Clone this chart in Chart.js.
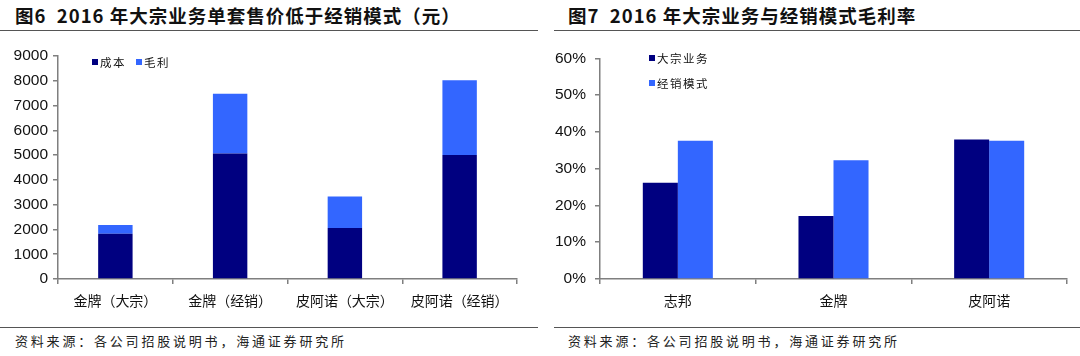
<!DOCTYPE html>
<html>
<head>
<meta charset="utf-8">
<script src="https://cdn.jsdelivr.net/npm/chart.js@4"></script>
<style>
  html, body { margin:0; padding:0; background:#fff; }
  body { width:1080px; height:356px; position:relative; overflow:hidden; font-family:"Noto Sans CJK SC","Noto Sans",sans-serif; }
  .title { position:absolute; top:2px; font-weight:bold; font-size:18.5px; color:#111; white-space:nowrap; letter-spacing:1px; }
  .hline { position:absolute; height:0; border-top:1.5px solid #555; }
  .source { position:absolute; top:331px; font-size:13px; color:#222; white-space:nowrap; letter-spacing:2.8px; }
  canvas { position:absolute; }
  .legend { position:absolute; font-size:11.5px; color:#111; white-space:nowrap; letter-spacing:1.5px; }
  .legend .item { display:inline-flex; align-items:center; }
  .legend .sw { display:inline-block; width:6px; height:6px; margin-right:2px; }
</style>
</head>
<body>
<div class="title" style="left:15px;">图6&nbsp;&nbsp;2016 年大宗业务单套售价低于经销模式（元）</div>
<div class="title" style="left:568px;">图7&nbsp;&nbsp;2016 年大宗业务与经销模式毛利率</div>
<div class="hline" style="left:0; width:538px; top:30px;"></div>
<div class="hline" style="left:554px; width:526px; top:30px;"></div>
<div class="hline" style="left:0; width:538px; top:327px;"></div>
<div class="hline" style="left:554px; width:526px; top:327px;"></div>
<div class="source" style="left:15px;">资料来源：各公司招股说明书，海通证券研究所</div>
<div class="source" style="left:568px;">资料来源：各公司招股说明书，海通证券研究所</div>

<canvas id="c1" width="530" height="300" style="left:0; top:40px;"></canvas>
<canvas id="c2" width="540" height="300" style="left:540px; top:40px;"></canvas>
<div class="legend" id="lg1" style="left:92px; top:52px;"></div>
<div class="legend" id="lg2" style="left:649px; top:50px;"></div>

<script>
// ---- data: figure 6 ----
const priceCategories = ['金牌（大宗）', '金牌（经销）', '皮阿诺（大宗）', '皮阿诺（经销）'];
const costValues = [1830, 5070, 2060, 5000];
const profitValues = [350, 2410, 1270, 3020];
const priceTicks = [0, 1000, 2000, 3000, 4000, 5000, 6000, 7000, 8000, 9000];
const priceSeriesNames = ['成本', '毛利'];

// ---- data: figure 7 ----
const marginCategories = ['志邦', '金牌', '皮阿诺'];
const bulkMargin = [26.2, 17.1, 37.9];
const dealerMargin = [37.6, 32.3, 37.6];
const marginTicks = [0, 10, 20, 30, 40, 50, 60];
const marginSeriesNames = ['大宗业务', '经销模式'];

const DARK = '#000080';
const LIGHT = '#3366FF';
const AXIS = '#7f7f7f';
const tickFont = { family: '"Liberation Sans", Arial, sans-serif', size: 15.5 };
const catFont = { family: '"Noto Sans CJK SC", sans-serif', size: 14 };

function buildLegend(el, names, colors, vertical) {
  names.forEach((n, i) => {
    const it = document.createElement('div');
    it.className = 'item';
    if (vertical) { it.style.display = 'flex'; it.style.marginBottom = '9px'; }
    else { it.style.marginRight = '10px'; }
    const sw = document.createElement('span');
    sw.className = 'sw';
    sw.style.background = colors[i];
    it.appendChild(sw);
    it.appendChild(document.createTextNode(n));
    el.appendChild(it);
  });
}
buildLegend(document.getElementById('lg1'), priceSeriesNames, [DARK, LIGHT], false);
buildLegend(document.getElementById('lg2'), marginSeriesNames, [DARK, LIGHT], true);

function fixedTicks(list) {
  return function(axis) { axis.ticks = list.map(v => ({ value: v })); };
}

new Chart(document.getElementById('c1'), {
  type: 'bar',
  data: {
    labels: priceCategories,
    datasets: [
      { label: priceSeriesNames[0], data: costValues, backgroundColor: DARK },
      { label: priceSeriesNames[1], data: profitValues, backgroundColor: LIGHT }
    ]
  },
  options: {
    responsive: false, animation: false, devicePixelRatio: 1,
    layout: { padding: { left: 0, right: 13, top: 16, bottom: 0 } },
    plugins: { legend: { display: false }, tooltip: { enabled: false } },
    datasets: { bar: { categoryPercentage: 1, barPercentage: 0.3 } },
    scales: {
      x: {
        stacked: true,
        afterFit: s => { s.height = 61; },
        border: { display: true, color: AXIS, width: 1.5 },
        grid: { display: true, drawOnChartArea: false, drawTicks: true, tickLength: 5, color: AXIS, offset: true, lineWidth: 1.5 },
        ticks: { color: '#111', font: catFont, padding: 8 }
      },
      y: {
        stacked: true, min: 0, max: 9000,
        afterFit: s => { s.width = 58; },
        afterBuildTicks: fixedTicks(priceTicks),
        border: { display: true, color: AXIS, width: 1.5 },
        grid: { display: true, drawOnChartArea: false, drawTicks: true, tickLength: 5, color: AXIS, lineWidth: 1.5 },
        ticks: { color: '#111', font: tickFont, padding: 5, callback: v => String(v) }
      }
    }
  }
});

new Chart(document.getElementById('c2'), {
  type: 'bar',
  data: {
    labels: marginCategories,
    datasets: [
      { label: marginSeriesNames[0], data: bulkMargin, backgroundColor: DARK },
      { label: marginSeriesNames[1], data: dealerMargin, backgroundColor: LIGHT }
    ]
  },
  options: {
    responsive: false, animation: false, devicePixelRatio: 1,
    layout: { padding: { left: 0, right: 13, top: 16, bottom: 0 } },
    plugins: { legend: { display: false }, tooltip: { enabled: false } },
    datasets: { bar: { categoryPercentage: 0.45, barPercentage: 1 } },
    scales: {
      x: {
        afterFit: s => { s.height = 61; },
        border: { display: true, color: AXIS, width: 1.5 },
        grid: { display: true, drawOnChartArea: false, drawTicks: true, tickLength: 5, color: AXIS, offset: true, lineWidth: 1.5 },
        ticks: { color: '#111', font: catFont, padding: 8 }
      },
      y: {
        min: 0, max: 60,
        afterFit: s => { s.width = 60; },
        afterBuildTicks: fixedTicks(marginTicks),
        border: { display: true, color: AXIS, width: 1.5 },
        grid: { display: true, drawOnChartArea: false, drawTicks: true, tickLength: 5, color: AXIS, lineWidth: 1.5 },
        ticks: { color: '#111', font: tickFont, padding: 9, callback: v => v + '%' }
      }
    }
  }
});
</script>
</body>
</html>
